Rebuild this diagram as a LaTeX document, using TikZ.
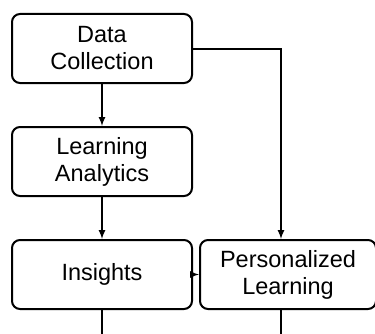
\documentclass[tikz,border=0pt]{standalone}
\usepackage{fontspec}
\setmainfont{Liberation Sans}
\begin{document}
\begin{tikzpicture}[x=1pt,y=1pt]
 \tikzset{block/.style={draw, rounded corners=8pt, line width=2pt, minimum width=180pt, minimum height=69pt, align=center, font=\fontsize{23.5}{27}\selectfont}}
  \useasboundingbox (0,0) rectangle (375,333);
  \clip (0,0) rectangle (375,333);
  \node[block] (DataCollection) at (102,284.5) {Data\\Collection};
  \node[block] (LearningAnalytics) at (102,171.5) {Learning\\Analytics};
  \node[block] (Insights) at (102,58.5) {Insights};
  \node[block, minimum width=176pt] (Personalized) at (288,58.5) {Personalized\\Learning};
  \coordinate (Turn) at (281,284.5);
  \coordinate (InsightsOut) at (102,-2);
  \coordinate (PersonalizedOut) at (281,-2);
  \draw[->,>=latex, line width=2pt] (DataCollection) -- (LearningAnalytics);
  \draw[->,>=latex, line width=2pt] (LearningAnalytics) -- (Insights);
  \draw[->,>=latex, line width=2pt] (DataCollection.east) -- (Turn) -- (Turn |- Personalized.north);
  \draw[->,>=latex, line width=2pt] (Insights) -- (Personalized);
  \draw[line width=2pt] (Insights) -- (InsightsOut);
  \draw[line width=2pt] (Turn |- Personalized.south) -- (PersonalizedOut);
\end{tikzpicture}
\end{document}
